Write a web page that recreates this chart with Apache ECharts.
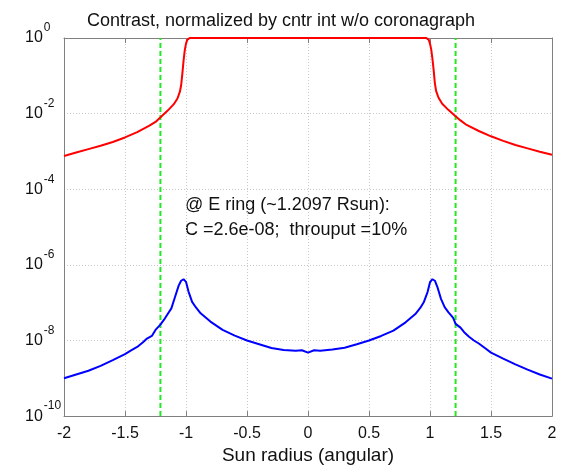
<!DOCTYPE html>
<html>
<head>
<meta charset="utf-8">
<script src="https://cdn.jsdelivr.net/npm/echarts@6/dist/echarts.min.js"></script>
<style>html,body{margin:0;padding:0;background:#fff;overflow:hidden}#c{width:562px;height:470px}</style>
</head>
<body>
<div id="c"></div>
<script>
// Data (values given as base-10 exponents)
var redX = [-2.0,-1.9,-1.8,-1.7,-1.6,-1.5,-1.4,-1.3,-1.25,-1.2,-1.15,-1.1,-1.07,-1.05,-1.04,-1.03,-1.02,-1.01,-1.0,-0.99,-0.98,-0.97,
            0.97,0.98,0.99,1.0,1.01,1.02,1.03,1.04,1.05,1.07,1.1,1.15,1.2,1.25,1.3,1.4,1.5,1.6,1.7,1.8,1.9,2.0];
var redExp = [-3.12,-3.03,-2.94,-2.85,-2.75,-2.63,-2.49,-2.32,-2.22,-2.07,-1.92,-1.75,-1.6,-1.42,-1.25,-0.95,-0.6,-0.32,-0.15,-0.05,-0.01,0,
              0,-0.01,-0.05,-0.15,-0.3,-0.55,-0.85,-1.2,-1.4,-1.58,-1.74,-1.9,-2.04,-2.18,-2.3,-2.46,-2.6,-2.72,-2.83,-2.92,-3.01,-3.09];
var blueX = [-2.0,-1.9,-1.8,-1.7,-1.6,-1.5,-1.45,-1.4,-1.35,-1.32,-1.28,-1.25,-1.21,-1.18,-1.15,-1.12,-1.09,-1.06,-1.04,-1.02,-1.0,-0.98,-0.95,-0.92,-0.88,-0.8,-0.7,-0.6,-0.5,-0.4,-0.3,-0.2,-0.1,-0.05,0,
             0.05,0.1,0.2,0.3,0.4,0.5,0.6,0.7,0.8,0.88,0.92,0.95,0.98,1.0,1.02,1.04,1.06,1.09,1.12,1.15,1.19,1.21,1.25,1.28,1.32,1.36,1.4,1.45,1.5,1.6,1.7,1.8,1.9,2.0];
var blueExp = [-9.0,-8.9,-8.8,-8.67,-8.52,-8.36,-8.26,-8.17,-8.04,-7.95,-7.88,-7.72,-7.58,-7.45,-7.3,-7.15,-6.85,-6.55,-6.42,-6.38,-6.45,-6.7,-6.98,-7.12,-7.28,-7.5,-7.72,-7.87,-8.0,-8.1,-8.2,-8.25,-8.27,-8.26,-8.32,
               -8.26,-8.27,-8.24,-8.19,-8.1,-8.0,-7.88,-7.74,-7.52,-7.3,-7.14,-6.98,-6.72,-6.46,-6.38,-6.42,-6.58,-6.9,-7.12,-7.25,-7.4,-7.56,-7.66,-7.78,-7.9,-8.0,-8.08,-8.2,-8.32,-8.48,-8.63,-8.77,-8.9,-9.01];
var ringX = 1.2097;
var yMin = 1e-10, yMax = 1;
var titleText = 'Contrast, normalized by cntr int w/o coronagraph';
var xName = 'Sun radius (angular)';
var noteLines = ['@ E ring (~1.2097 Rsun):', 'C =2.6e-08;  throuput =10%'];

function pairs(xs, es) { return xs.map(function (x, i) { return [x, Math.pow(10, es[i])]; }); }

var chart = echarts.init(document.getElementById('c'), null, {renderer: 'canvas', width: 562, height: 470});
var FONT = 'Liberation Sans, Arial, sans-serif';
var gridLine = {show: true, lineStyle: {color: '#c8c8c8', type: [1, 2], width: 1}};
var axisLine = {show: true, onZero: false, lineStyle: {color: '#808080', width: 1}};
var tick = {show: true, inside: true, length: 5, lineStyle: {color: '#808080'}};
chart.setOption({
  animation: false,
  backgroundColor: '#fff',
  title: {text: titleText, left: 'center', top: 7, textStyle: {fontFamily: FONT, fontSize: 18, fontWeight: 'normal', color: '#111'}},
  grid: {left: 64, right: 10, top: 38, bottom: 48, show: false},
  xAxis: [{
    type: 'value', min: -2, max: 2, interval: 0.5, position: 'bottom',
    name: xName, nameLocation: 'middle', nameGap: 29,
    nameTextStyle: {fontFamily: FONT, fontSize: 19, color: '#111'},
    axisLine: axisLine, axisTick: tick,
    splitLine: gridLine,
    axisLabel: {fontFamily: FONT, fontSize: 16, color: '#111', margin: 9}
  }, {
    type: 'value', min: -2, max: 2, interval: 0.5, position: 'top',
    axisLine: axisLine, axisTick: tick,
    splitLine: {show: false}, axisLabel: {show: false}
  }],
  yAxis: [{
    type: 'log', logBase: 10, min: yMin, max: yMax, interval: 2, position: 'left',
    axisLine: axisLine, axisTick: {show: false},
    minorTick: {show: false},
    splitLine: gridLine,
    axisLabel: {
      align: 'left', margin: 39,
      formatter: function (v) { return '{b|10}{s|' + Math.round(Math.log10(v)) + '}'; },
      rich: {
        b: {fontFamily: FONT, fontSize: 16, color: '#111', verticalAlign: 'bottom', lineHeight: 16},
        s: {fontFamily: FONT, fontSize: 12, color: '#111', verticalAlign: 'bottom', lineHeight: 12, padding: [0, 0, 12, 1]}
      }
    }
  }, {
    type: 'log', logBase: 10, min: yMin, max: yMax, interval: 2, position: 'right',
    axisLine: axisLine, axisTick: {show: false},
    splitLine: {show: false}, axisLabel: {show: false}
  }],
  series: [
    {type: 'line', data: pairs(redX, redExp), showSymbol: false, lineStyle: {color: '#ff0000', width: 2}, z: 3},
    {type: 'line', data: pairs(blueX, blueExp), showSymbol: false, lineStyle: {color: '#0000ff', width: 2}, z: 3},
    {type: 'line', data: [[-ringX, yMin], [-ringX, yMax]], showSymbol: false, lineStyle: {color: '#22e622', width: 2, type: [5, 3]}, z: 2},
    {type: 'line', data: [[ringX, yMin], [ringX, yMax]], showSymbol: false, lineStyle: {color: '#22e622', width: 2, type: [5, 3]}, z: 2}
  ],
  graphic: [
    {type: 'text', left: 185, top: 196, style: {text: noteLines[0], font: '18px ' + FONT, fill: '#111'}},
    {type: 'text', left: 185, top: 221, style: {text: noteLines[1], font: '18px ' + FONT, fill: '#111'}}
  ]
});
</script>
</body>
</html>
